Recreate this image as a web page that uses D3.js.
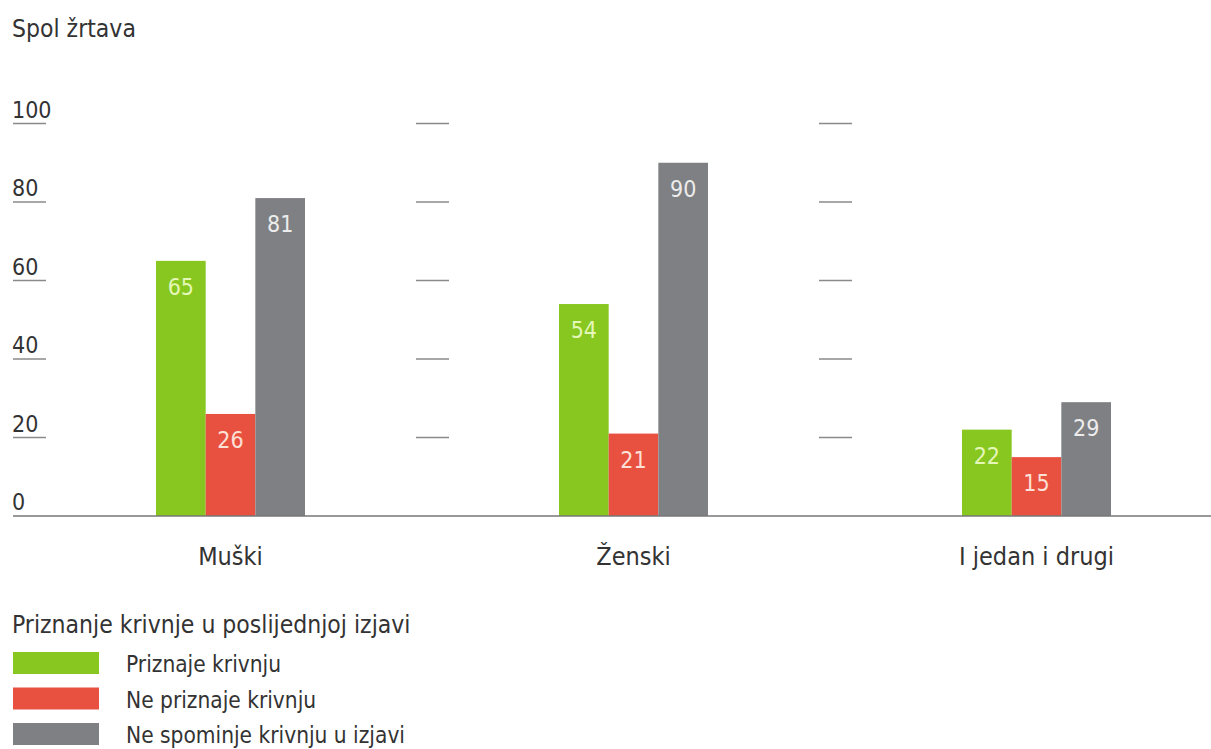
<!DOCTYPE html>
<html>
<head>
<meta charset="utf-8">
<script src="https://cdn.jsdelivr.net/npm/d3@7"></script>
<style>
	body { margin: 0; background: #fff; }
	svg text { font-family: "Liberation Sans Narrow", "Arial Narrow", "DejaVu Sans Condensed", Roboto, sans-serif; font-stretch: condensed; }
</style>
</head>
<body>
<svg id="chart"></svg>
<script>
// ========== DATA ==========
var categories = ['Muški', 'Ženski', 'I jedan i drugi'];
var series = ['Priznaje krivnju', 'Ne priznaje krivnju', 'Ne spominje krivnju u izjavi'];
var priznaje = [65, 54, 22];
var nePriznaje = [26, 21, 15];
var neSpominje = [81, 90, 29];
var yTicks = [0, 20, 40, 60, 80, 100];

// ========== CONSTANTS ==========
var colors = ['#87c71f', '#e8503f', '#7f8083'];
var labelColors = ['#e4f7b8', '#fde0d6', '#ececec'];
var text_color = '#333333';
var tick_color = '#8a8a8a';

var width = 1211;
var height = 749;

var svg = d3.select('#chart')
	.attr('width', width)
	.attr('height', height);

var values = [priznaje, nePriznaje, neSpominje];
var rows = categories.map(function(c, i) {
	return { cat: c, vals: values.map(function(v) { return v[i]; }) };
});

var x = d3.scaleBand()
	.domain(categories)
	.range([29, 29 + 3 * 403]);
var x1 = d3.scaleBand()
	.domain(series)
	.range([0, 149]);
var y = d3.scaleLinear()
	.domain([0, 100])
	.range([516, 123.5]);

// title
svg.append('text')
	.attr('x', 12)
	.attr('y', 37)
	.attr('fill', text_color)
	.style('font-size', '24.5px')
	.text('Spol žrtava');

// tick dashes, one column per panel
categories.forEach(function(c, i) {
	var left = x(c) - 16;
	svg.selectAll('.tick' + i)
		.data(yTicks.filter(function(t) { return t > 0; }))
		.enter().append('line')
		.attr('x1', left)
		.attr('x2', left + 33)
		.attr('y1', function(d) { return y(d); })
		.attr('y2', function(d) { return y(d); })
		.attr('stroke', tick_color)
		.attr('stroke-width', 1.3);
});

// tick labels on the left
svg.selectAll('.ylab')
	.data(yTicks).enter().append('text')
	.attr('x', 12)
	.attr('y', function(d) { return y(d) - 6; })
	.attr('fill', text_color)
	.style('font-size', '23px')
	.text(function(d) { return d; });

// bars
var groups = svg.selectAll('.grp')
	.data(rows).enter().append('g')
	.attr('transform', function(d) { return 'translate(' + (x(d.cat) + x.bandwidth() / 2 - 74.5) + ',0)'; });

groups.selectAll('rect')
	.data(function(d) { return d.vals; })
	.enter().append('rect')
	.attr('x', function(d, i) { return x1(series[i]); })
	.attr('width', x1.bandwidth())
	.attr('y', function(d) { return y(d); })
	.attr('height', function(d) { return y(0) - y(d); })
	.attr('fill', function(d, i) { return colors[i]; });

groups.selectAll('.val')
	.data(function(d) { return d.vals; })
	.enter().append('text')
	.attr('x', function(d, i) { return x1(series[i]) + x1.bandwidth() / 2; })
	.attr('y', function(d) { return y(d) + 34; })
	.attr('text-anchor', 'middle')
	.attr('fill', function(d, i) { return labelColors[i]; })
	.style('font-size', '23px')
	.text(function(d) { return d; });

// baseline
svg.append('line')
	.attr('x1', 13)
	.attr('x2', width)
	.attr('y1', y(0))
	.attr('y2', y(0))
	.attr('stroke', '#777')
	.attr('stroke-width', 1.5);

// category labels
svg.selectAll('.cat')
	.data(categories).enter().append('text')
	.attr('x', function(d) { return x(d) + x.bandwidth() / 2; })
	.attr('y', 565)
	.attr('text-anchor', 'middle')
	.attr('fill', text_color)
	.style('font-size', '25px')
	.text(function(d) { return d; });

// legend
svg.append('text')
	.attr('x', 12)
	.attr('y', 633)
	.attr('fill', text_color)
	.style('font-size', '24.5px')
	.text('Priznanje krivnje u poslijednjoj izjavi');

var legend = svg.selectAll('.leg')
	.data(series).enter().append('g')
	.attr('transform', function(d, i) { return 'translate(13,' + (652 + i * 35.5) + ')'; });

legend.append('rect')
	.attr('width', 86)
	.attr('height', 22)
	.attr('fill', function(d, i) { return colors[i]; });

legend.append('text')
	.attr('x', 113)
	.attr('y', 20)
	.attr('fill', text_color)
	.style('font-size', '22.5px')
	.text(function(d) { return d; });
</script>
</body>
</html>
